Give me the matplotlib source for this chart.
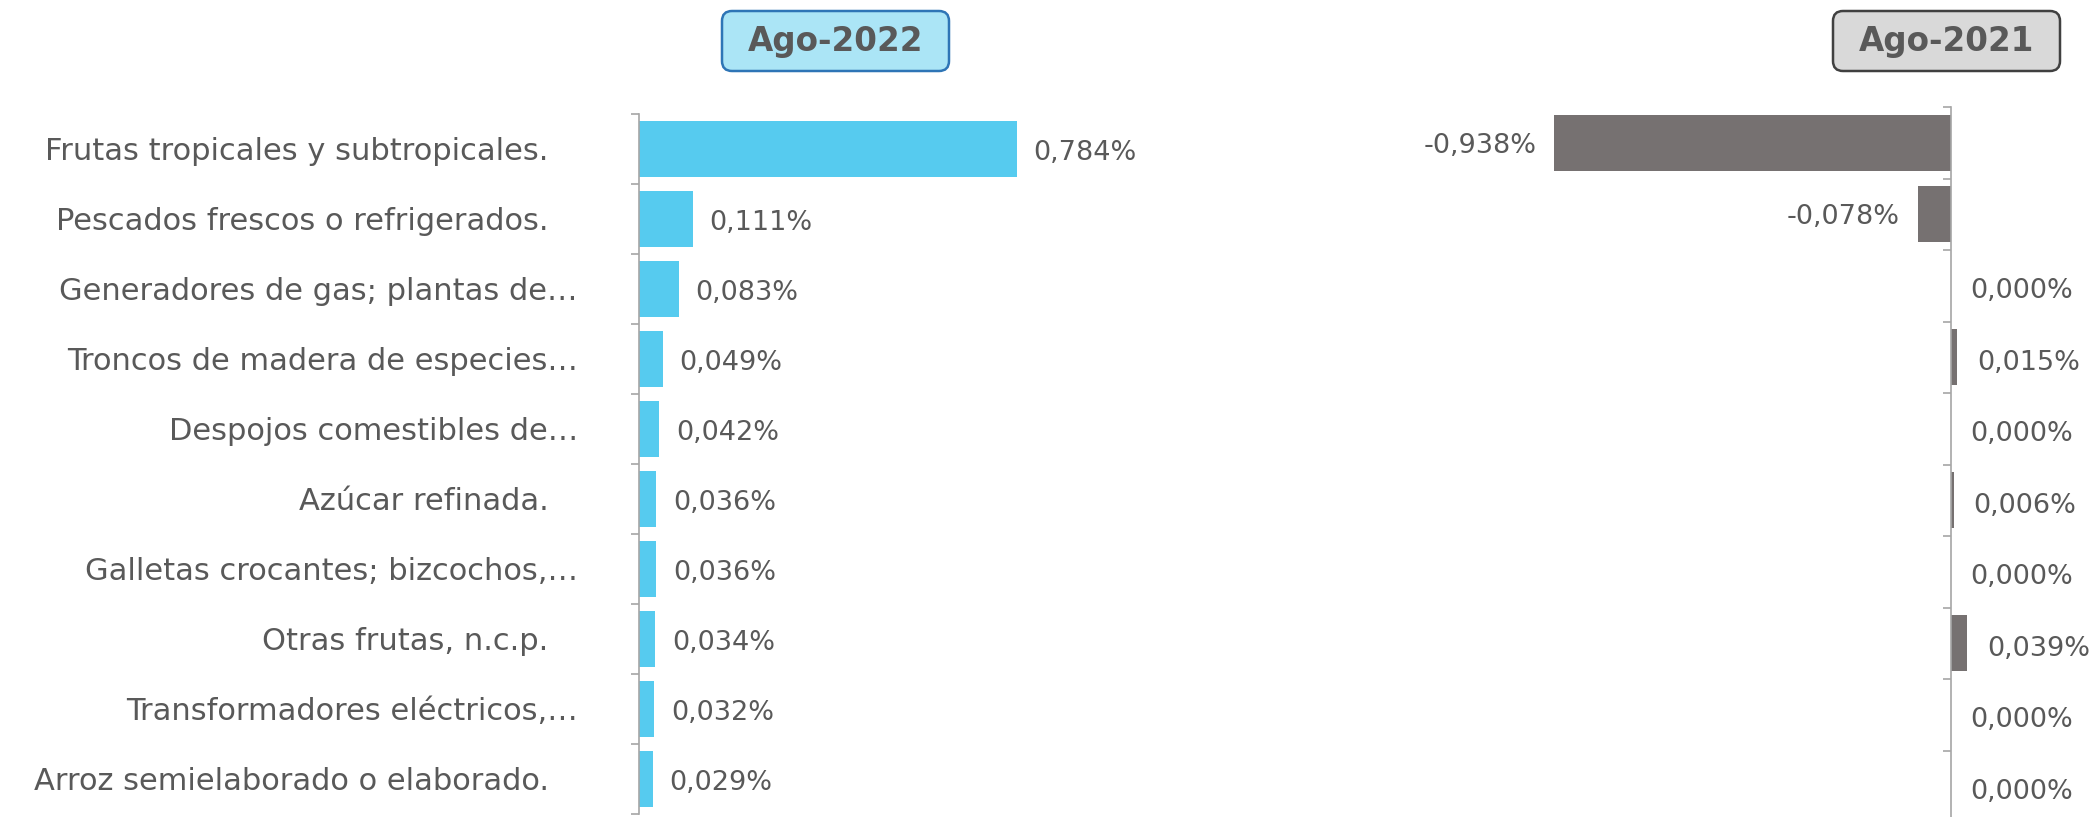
import matplotlib
matplotlib.use('Agg')
import matplotlib.pyplot as plt
from matplotlib.patches import FancyBboxPatch
from matplotlib.transforms import IdentityTransform

# Data
categories = ['Frutas tropicales y subtropicales.   ',
              'Pescados frescos o refrigerados.   ',
              'Generadores de gas; plantas de…',
              'Troncos de madera de especies…',
              'Despojos comestibles de…',
              'Azúcar refinada.   ',
              'Galletas crocantes; bizcochos,…',
              'Otras frutas, n.c.p.   ',
              'Transformadores eléctricos,…',
              'Arroz semielaborado o elaborado.   ']
ago_2022 = [0.784, 0.111, 0.083, 0.049, 0.042, 0.036, 0.036, 0.034, 0.032, 0.029]
ago_2021 = [-0.938, -0.078, 0.000, 0.015, 0.000, 0.006, 0.000, 0.039, 0.000, 0.000]
titles = ['Ago-2022', 'Ago-2021']

TEXT = '#595959'
AXIS = '#A6A6A6'
plt.rcParams['font.family'] = ['DejaVu Sans']

W, H = 2096, 817
fig = plt.figure(figsize=(W / 100, H / 100), dpi=100)


def fmt(v):
    return f'{v:.3f}%'.replace('.', ',')


def style_axis(ax, n):
    for s in ['top', 'right', 'bottom']:
        ax.spines[s].set_visible(False)
    ax.spines['left'].set_color(AXIS)
    ax.spines['left'].set_linewidth(1.2)
    ax.set_xticks([])
    ax.set_ylim(n - 0.5, -0.5)
    ax.set_yticks([i - 0.5 for i in range(n + 1)])
    ax.set_yticklabels([])
    ax.tick_params(axis='y', which='major', direction='out', length=6,
                   width=1.2, color=AXIS)
    ax.patch.set_alpha(0)


n = len(categories)
ypos = list(range(n))

# Left panel: Ago-2022
ax1 = fig.add_axes([639 / W, 1 - 814 / H, 0.9 * 482 / W, 700 / H])
ax1.barh(ypos, ago_2022, height=0.8, color='#56CBEF')
ax1.set_xlim(0, 0.9)
style_axis(ax1, n)
ax1.set_yticks(ypos, minor=True)
ax1.set_yticklabels(categories, minor=True, fontsize=22, color=TEXT)
ax1.tick_params(axis='y', which='minor', length=0, pad=44)
for y, v in zip(ypos, ago_2022):
    ax1.annotate(fmt(v), (v, y), xytext=(12, -3), textcoords='offset points',
                 ha='left', va='center', fontsize=19.5, color=TEXT,
                 annotation_clip=False)

# Right panel: Ago-2021
ax2 = fig.add_axes([(1951 - 423) / W, 1 - 822 / H, 1.25 * 423 / W, 715 / H])
ax2.barh(ypos, ago_2021, height=0.78, color='#767171')
ax2.set_xlim(-1.0, 0.25)
style_axis(ax2, n)
ax2.spines['left'].set_position(('data', 0))
for y, v in zip(ypos, ago_2021):
    if v < 0:
        ax2.annotate(fmt(v), (v, y), xytext=(-13, -2), textcoords='offset points',
                     ha='right', va='center', fontsize=19.5, color=TEXT,
                     annotation_clip=False)
    else:
        ax2.annotate(fmt(v), (v, y), xytext=(14, -4), textcoords='offset points',
                     ha='left', va='center', fontsize=19.5, color=TEXT,
                     annotation_clip=False)

# Title boxes
boxes = [(722, 949, '#ABE5F6', '#2E75B6'), (1833, 2060, '#D9D9D9', '#404040')]
for (x0, x1, fc, ec), t in zip(boxes, titles):
    y0, y1 = H - 71, H - 11
    fig.add_artist(FancyBboxPatch((x0, y0), x1 - x0, y1 - y0,
                                  boxstyle='round,pad=0,rounding_size=10',
                                  fc=fc, ec=ec, lw=1.8, transform=IdentityTransform()))
    fig.text((x0 + x1) / 2 / W, 1 - 42 / H, t, ha='center', va='center',
             fontsize=23.5, fontweight='bold', color=TEXT)

fig.savefig('out.png', dpi=100)
